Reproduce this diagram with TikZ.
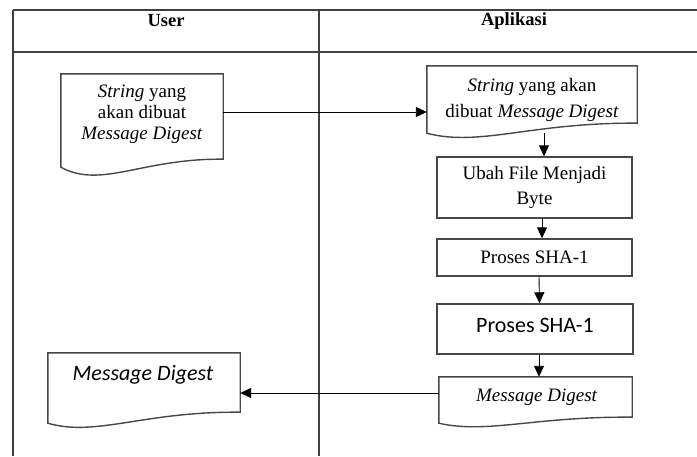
\documentclass[tikz,border=0pt]{standalone}
\usepackage{fontspec}
\setmainfont{Liberation Serif}
\newfontfamily\carlito{Carlito}
\usetikzlibrary{arrows.meta,calc}

\tikzset{
  gridline/.style={line width=1.8pt, draw=black!75},
  outline/.style={line width=1.4pt, draw=black!72, line join=miter},
  procbox/.style={rectangle, outline, inner sep=0pt, align=center,
                  font=\fontsize{19}{25}\selectfont},
  docarea/.style={rectangle, inner sep=0pt, draw=none},
  label serif/.style={inner sep=0pt, align=center},
  head/.style={inner sep=0pt, font=\fontsize{18.5}{22}\selectfont\bfseries},
  conn/.style={line width=0.9pt, draw=black, -{Triangle[length=11pt,width=10pt]}},
}

% outline of a document symbol: straight top and sides, wavy bottom edge
% #1 node, #2 rise of the lower right corner, #3 pull of the wave below the base
\newcommand\docoutline[3]{%
  \draw[outline] (#1.south west) -- (#1.north west) -- (#1.north east)
    -- ($(#1.south east)+(0,-#2)$)
    .. controls ($(#1.south)+(0,-#2-1)$) and ($(#1.south west)!0.25!(#1.south east)+(0,#3)$)
    .. (#1.south west) -- cycle;}

\begin{document}
\begin{tikzpicture}[x=1pt, y=-1pt]
  \useasboundingbox (0,0) rectangle (697,456);

  % swimlane table
  \draw[gridline] (13,10) -- (697,10);
  \draw[gridline] (13,52) -- (697,52);
  \draw[gridline] (13,10) -- (13,456);
  \draw[gridline] (319,10) -- (319,456);
  \node[head] (hUser) at (166,21) {User};
  \node[head] (hApp) at (514,21) {Aplikasi};

  % user lane: input string
  \node[docarea, minimum width=162pt, minimum height=93pt] (d1) at (142,120.5) {};
  \docoutline{d1}{8}{22}
  \node[label serif, font=\fontsize{19}{21}\selectfont] (d1t) at ($(d1.center)+(0,-6.5)$)
    {\textit{String} yang\\akan dibuat\\\textit{Message Digest}};

  % application lane
  \node[docarea, minimum width=210pt, minimum height=67pt] (d2) at (532,99.5) {};
  \docoutline{d2}{10}{14}
  \node[label serif, font=\fontsize{19}{26}\selectfont] (d2t) at ($(d2.center)+(0,0)$)
    {\textit{String} yang akan\\dibuat \textit{Message Digest}};

  \node[procbox, minimum width=195pt, minimum height=61pt] (b1) at (534.5,187.5)
    {Ubah File Menjadi\\Byte};
  \node[procbox, minimum width=195pt, minimum height=37pt] (b2) at (534.5,257.5)
    {Proses SHA-1};
  \node[procbox, minimum width=196pt, minimum height=50pt, text depth=8pt,
        font=\carlito\fontsize{22}{26}\selectfont] (b3) at (535,329)
    {Proses SHA-1};

  \node[docarea, minimum width=193pt, minimum height=46pt] (d3) at (535.5,400) {};
  \docoutline{d3}{6}{11}
  \node[label serif, font=\fontsize{19}{22}\selectfont\itshape] (d3t) at (536.5,397)
    {Message Digest};

  % user lane: resulting digest
  \node[docarea, minimum width=192pt, minimum height=70pt] (d4) at (144,388) {};
  \docoutline{d4}{11}{14}
  \node[label serif, font=\carlito\fontsize{22}{26}\selectfont\itshape] (d4t) at (143,375)
    {Message Digest};

  % flow
  \draw[conn] ([yshift=8.5pt]d1.east) coordinate (a1) -- (a1 -| d2.west);
  \draw[conn] ([xshift=9.5pt]b1.north |- d2.south) -- ([xshift=9.5pt]b1.north);
  \draw[conn] ([xshift=7.5pt]b1.south) -- ([xshift=7.5pt]b2.north);
  \draw[conn] ([xshift=4.5pt]b2.south) -- ([xshift=4.5pt]b3.north);
  \draw[conn] ([xshift=4pt]b3.south) -- ([xshift=4pt]b3.south |- d3.north);
  \draw[conn] ([yshift=7pt]d3.west) coordinate (a2) -- (a2 -| d4.east);
\end{tikzpicture}
\end{document}
